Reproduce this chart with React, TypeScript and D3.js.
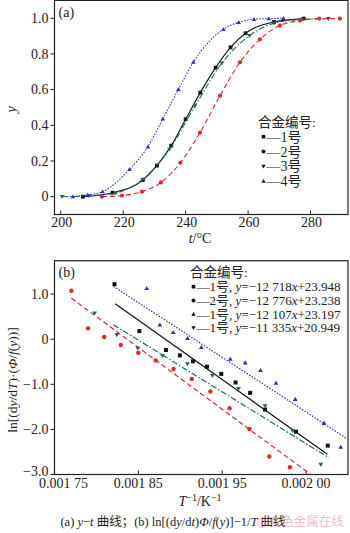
import React from "react";
import * as d3 from "d3";

// ---------- Panel (a): y–t curves ----------
const aTicksX = [200, 220, 240, 260, 280];
const aTicksY = [0, 0.2, 0.4, 0.6, 0.8, 1.0];
const aTickLabelsY = ["0", "0.2", "0.4", "0.6", "0.8", "1.0"];

const a1T = [207.1, 216.6, 226.3, 230.8, 235.4, 240.0, 244.7, 249.6, 254.4, 259.2, 268.3, 277.8];
const a1Y = [0, 0.022, 0.093, 0.174, 0.286, 0.434, 0.583, 0.723, 0.837, 0.916, 0.979, 0.998];
const a2T = [213.2, 219.6, 226.0, 232.1, 238.3, 244.6, 251.0, 257.4, 263.8, 270.2, 276.6, 282.8, 289.4];
const a2Y = [0, 0.006, 0.028, 0.08, 0.19, 0.359, 0.565, 0.753, 0.882, 0.959, 0.987, 0.998, 0.998];
const a3T = [200.4, 209.0, 217.6, 226.2, 234.8, 243.0, 251.6, 260.4, 268.3, 277.0, 285.7];
const a3Y = [0, 0.005, 0.02, 0.097, 0.265, 0.508, 0.748, 0.902, 0.972, 0.993, 0.997];
const a4T = [203.9, 208.6, 213.4, 222.0, 227.9, 232.7, 237.7, 242.5, 252.1, 257.0, 261.9, 266.6, 271.3];
const a4Y = [0, 0.009, 0.028, 0.153, 0.28, 0.437, 0.602, 0.755, 0.938, 0.977, 0.994, 0.998, 1.0];

const aLegendTitle = "合金编号:";
const aLegendLabels = ["—1号", "—2号", "—3号", "—4号"];

// ---------- Panel (b): ln[...] – 1/T ----------
const bTicksX = [0.00175, 0.00185, 0.00195, 0.00205];
const bTickLabelsX = ["0.001 75", "0.001 85", "0.001 95", "0.002 00"];
const bTicksY = [1, 0, -1, -2, -3];
const bTickLabelsY = ["1.0", "0", "−1.0", "−2.0", "−3.0"];

const b1X = [0.0018215, 0.0018512, 0.0018829, 0.0018995, 0.0019152, 0.0019318, 0.0019489, 0.0019659, 0.0019833, 0.0020011, 0.0020379, 0.0020759];
const b1Y = [1.22, 0.18, -0.24, -0.36, -0.49, -0.61, -0.77, -0.96, -1.19, -1.56, -2.05, -2.36];
const b2X = [0.0017702, 0.00179, 0.0018093, 0.0018291, 0.00185, 0.0018706, 0.001892, 0.0019137, 0.0019359, 0.0019588, 0.0019825, 0.0020062, 0.0020308];
const b2Y = [1.075, 0.24, 0.05, -0.13, -0.3, -0.47, -0.66, -0.88, -1.16, -1.53, -1.99, -2.6, -2.84];
const b3X = [0.00186, 0.0018757, 0.0018915, 0.0019086, 0.0019252, 0.0019596, 0.0019774, 0.0019956, 0.0020141, 0.0020371, 0.0020715, 0.0020913];
const b3Y = [1.13, 0.32, 0.155, 0.02, -0.18, -0.44, -0.52, -0.69, -0.97, -1.33, -1.86, -2.39];
const b4X = [0.0017978, 0.0018244, 0.0018493, 0.0018789, 0.0019086, 0.0019383, 0.0019695, 0.0020011, 0.0020339, 0.0020676];
const b4Y = [0.575, 0.095, -0.2, -0.37, -0.55, -0.81, -1.1, -1.48, -2.03, -2.78];

// fitted lines: [start, end] in data units
const fit1X = [0.0018224, 0.0020754];
const fit1Y = [0.785, -2.55];
const fit2X = [0.00177, 0.0020557];
const fit2Y = [0.91, -3.0];
const fit3X = [0.0018203, 0.0021];
const fit3Y = [1.17, -2.22];
const fit4X = [0.0018203, 0.0020774];
const fit4Y = [0.32, -2.63];

const bLegendTitle = "合金编号:";
const bLegendNo = ["—1号, ", "—2号, ", "—1号, ", "—1号, "];
const bLegendSlope = ["−12 718", "−12 776", "−12 107", "−11 335"];
const bLegendIcpt = ["+23.948", "+23.238", "+23.197", "+20.949"];

const FONT = "'Liberation Serif', 'Times New Roman', 'Noto Sans CJK SC', serif";
const CJK = "'Liberation Serif', 'Noto Sans CJK SC', serif";

const RED = "#e3262b";
const BLUE = "#2a2ad8";
const TEAL = "#1d6a5c";
const BLACK = "#111";

type Shape = "square" | "circle" | "down" | "up";

function Marker({ x, y, shape, color, s }: { x: number; y: number; shape: Shape; color: string; s: number }) {
  if (shape === "square") return <rect x={x - s / 2} y={y - s / 2} width={s} height={s} fill={color} />;
  if (shape === "circle") return <circle cx={x} cy={y} r={s / 2 + 0.2} fill={color} />;
  const h = s * 0.9;
  const w = s * 0.6;
  if (shape === "up")
    return <path d={`M${x},${y - h / 2 - 0.5}L${x + w},${y + h / 2}L${x - w},${y + h / 2}Z`} fill={color} />;
  return <path d={`M${x},${y + h / 2 + 0.5}L${x + w},${y - h / 2}L${x - w},${y - h / 2}Z`} fill={color} />;
}

export default function App() {
  // Panel (a)
  const L = 54.5, R = 348;
  const ax = d3.scaleLinear().domain([198, 292]).range([L, R]);
  const ay = d3.scaleLinear().domain([-0.1, 1.1]).range([214.5, 0.4]);
  const aTop = ay(1.1), aBot = ay(-0.1);

  const aSeries = [
    { t: a1T, y: a1Y, color: BLACK, shape: "square" as Shape, dash: "none" },
    { t: a3T, y: a3Y, color: TEAL, shape: "down" as Shape, dash: "6,2,1.5,2" },
    { t: a2T, y: a2Y, color: RED, shape: "circle" as Shape, dash: "5,3" },
    { t: a4T, y: a4Y, color: BLUE, shape: "up" as Shape, dash: "1.5,1.5" },
  ];
  const aLine = d3
    .line<[number, number]>()
    .x((d) => ax(d[0]))
    .y((d) => ay(d[1]))
    .curve(d3.curveMonotoneX);

  // Panel (b)
  const bx = d3.scaleLinear().domain([0.00175, 0.0021]).range([L, R]);
  const by = d3.scaleLinear().domain([-3.0, 1.74]).range([474.5, 260.7]);
  const bTop = by(1.74), bBot = by(-3.0);

  const bSeries = [
    { x: b1X, y: b1Y, fx: fit1X, fy: fit1Y, color: BLACK, shape: "square" as Shape, dash: "none" },
    { x: b2X, y: b2Y, fx: fit2X, fy: fit2Y, color: RED, shape: "circle" as Shape, dash: "5,3" },
    { x: b3X, y: b3Y, fx: fit3X, fy: fit3Y, color: BLUE, shape: "up" as Shape, dash: "1.5,1.5" },
    { x: b4X, y: b4Y, fx: fit4X, fy: fit4Y, color: TEAL, shape: "down" as Shape, dash: "6,2,1.5,2" },
  ];
  const bLegendShapes: Shape[] = ["square", "circle", "up", "down"];
  const aLegendShapes: Shape[] = ["square", "circle", "down", "up"];

  return (
    <svg
      width={350}
      height={533}
      style={{ position: "absolute", left: 0, top: 0, background: "#fff" }}
      fontFamily={FONT}
    >
      <rect x={0} y={0} width={350} height={533} fill="#fff" />
      <defs>
        <clipPath id="clipB">
          <rect x={L} y={bTop} width={R - L} height={bBot - bTop} />
        </clipPath>
      </defs>

      {/* ===== Panel (a) ===== */}
      <rect x={L} y={aTop} width={R - L} height={aBot - aTop} fill="none" stroke="#222" strokeWidth={1.2} />
      {aTicksY.map((v, i) => (
        <g key={"ay" + i}>
          <line x1={L - 4} x2={L} y1={ay(v)} y2={ay(v)} stroke="#222" />
          <text x={L - 6} y={ay(v) + 4.8} fontSize={14} textAnchor="end" fill="#222">
            {aTickLabelsY[i]}
          </text>
        </g>
      ))}
      {aTicksX.map((v, i) => (
        <g key={"ax" + i}>
          <line x1={ax(v)} x2={ax(v)} y1={aBot} y2={aBot - 4} stroke="#222" />
          <text x={ax(v) + 1} y={aBot + 12.5} fontSize={14} textAnchor="middle" fill="#222">
            {v}
          </text>
        </g>
      ))}
      <text x={L + 4} y={16.5} fontSize={14} fill="#222">(a)</text>
      <text transform={`translate(16,${ay(0.5) + 2}) rotate(-90)`} fontSize={15} fontStyle="italic" textAnchor="middle" fill="#222">
        y
      </text>
      <text x={200} y={243} fontSize={14} textAnchor="middle" fill="#222">
        <tspan fontStyle="italic">t</tspan>/°C
      </text>

      {aSeries.map((s, k) => {
        const pts: [number, number][] = s.t.map((t, i) => [t, s.y[i]]);
        return (
          <g key={"as" + k}>
            <path d={aLine(pts) || ""} fill="none" stroke={s.color} strokeWidth={1.1} strokeDasharray={s.dash} />
            {pts.map((p, i) => (
              <Marker key={i} x={ax(p[0])} y={ay(p[1])} shape={s.shape} color={s.color} s={3.8} />
            ))}
          </g>
        );
      })}

      <text x={258} y={126.5} fontSize={13.5} fontFamily={CJK} fill="#222">{aLegendTitle}</text>
      {aLegendLabels.map((lab, i) => (
        <g key={"al" + i}>
          <Marker x={263.5} y={136.7 + i * 14.8} shape={aLegendShapes[i]} color={BLACK} s={3.6} />
          <text x={266.5} y={136.7 + i * 14.8 + 5} fontSize={14} fontFamily={CJK} fill="#222">{lab}</text>
        </g>
      ))}

      {/* ===== Panel (b) ===== */}
      <rect x={L} y={bTop} width={R - L} height={bBot - bTop} fill="none" stroke="#222" strokeWidth={1.2} />
      {bTicksY.map((v, i) => (
        <g key={"by" + i}>
          <line x1={L - 4} x2={L} y1={by(v)} y2={by(v)} stroke="#222" />
          <text x={L - 6} y={by(v) + (i === bTicksY.length - 1 ? 1 : 4.8)} fontSize={14} textAnchor="end" fill="#222">
            {bTickLabelsY[i]}
          </text>
        </g>
      ))}
      {bTicksX.map((v, i) => (
        <g key={"bx" + i}>
          <line x1={bx(v)} x2={bx(v)} y1={bBot} y2={bBot - 4} stroke="#222" />
          <text x={bx(v) + (i === 0 ? 9 : 0)} y={bBot + 13.5} fontSize={14} textAnchor="middle" fill="#222">
            {bTickLabelsX[i]}
          </text>
        </g>
      ))}
      <text x={L + 4} y={277} fontSize={14} fill="#222">(b)</text>
      <text transform={`translate(17,${380}) rotate(-90)`} fontSize={13.5} textAnchor="middle" fill="#222">
        ln[(d<tspan fontStyle="italic">y</tspan>/d<tspan fontStyle="italic">T</tspan>)·(<tspan fontStyle="italic">Φ</tspan>/<tspan fontStyle="italic">f</tspan>(<tspan fontStyle="italic">y</tspan>))]
      </text>
      <text x={200} y={506} fontSize={14} textAnchor="middle" fill="#222">
        <tspan fontStyle="italic">T</tspan>
        <tspan dy={-5} fontSize={10}>−1</tspan>
        <tspan dy={5}>/K</tspan>
        <tspan dy={-5} fontSize={10}>−1</tspan>
      </text>

      <g clipPath="url(#clipB)">
        {bSeries.map((s, k) => (
          <g key={"bs" + k}>
            <line
              x1={bx(s.fx[0])}
              y1={by(s.fy[0])}
              x2={bx(s.fx[1])}
              y2={by(s.fy[1])}
              stroke={s.color}
              strokeWidth={1.2}
              strokeDasharray={s.dash}
            />
            {s.x.map((xv, i) => (
              <Marker key={i} x={bx(xv)} y={by(s.y[i])} shape={s.shape} color={s.color} s={4} />
            ))}
          </g>
        ))}
      </g>

      <text x={190} y={277} fontSize={13.5} fontFamily={CJK} fill="#222">{bLegendTitle}</text>
      {bLegendNo.map((no, i) => {
        const cy = 286.7 + i * 13.7;
        return (
          <g key={"bl" + i}>
            <Marker x={193.5} y={cy} shape={bLegendShapes[i]} color={BLACK} s={3.6} />
            <text x={196.5} y={cy + 4.6} fontSize={13} fontFamily={CJK} fill="#222">
              {no}
              <tspan fontStyle="italic">y</tspan>={bLegendSlope[i]}
              <tspan fontStyle="italic">x</tspan>
              {bLegendIcpt[i]}
            </text>
          </g>
        );
      })}

      {/* caption */}
      <text x={173} y={525.5} fontSize={12.5} textAnchor="middle" fontFamily={CJK} fill="#222">
        (a) <tspan fontStyle="italic">y</tspan>−<tspan fontStyle="italic">t</tspan> 曲线；(b) ln[(d<tspan fontStyle="italic">y</tspan>/d<tspan fontStyle="italic">t</tspan>)<tspan fontStyle="italic">Φ</tspan>/<tspan fontStyle="italic">f</tspan>(<tspan fontStyle="italic">y</tspan>)]−1/<tspan fontStyle="italic">T</tspan> 曲线
      </text>
      <text x={257} y={526} fontSize={12.5} fontFamily="'Noto Sans CJK SC', sans-serif" fill="#e58a96" opacity={0.55}>
        @有色金属在线
      </text>
    </svg>
  );
}
